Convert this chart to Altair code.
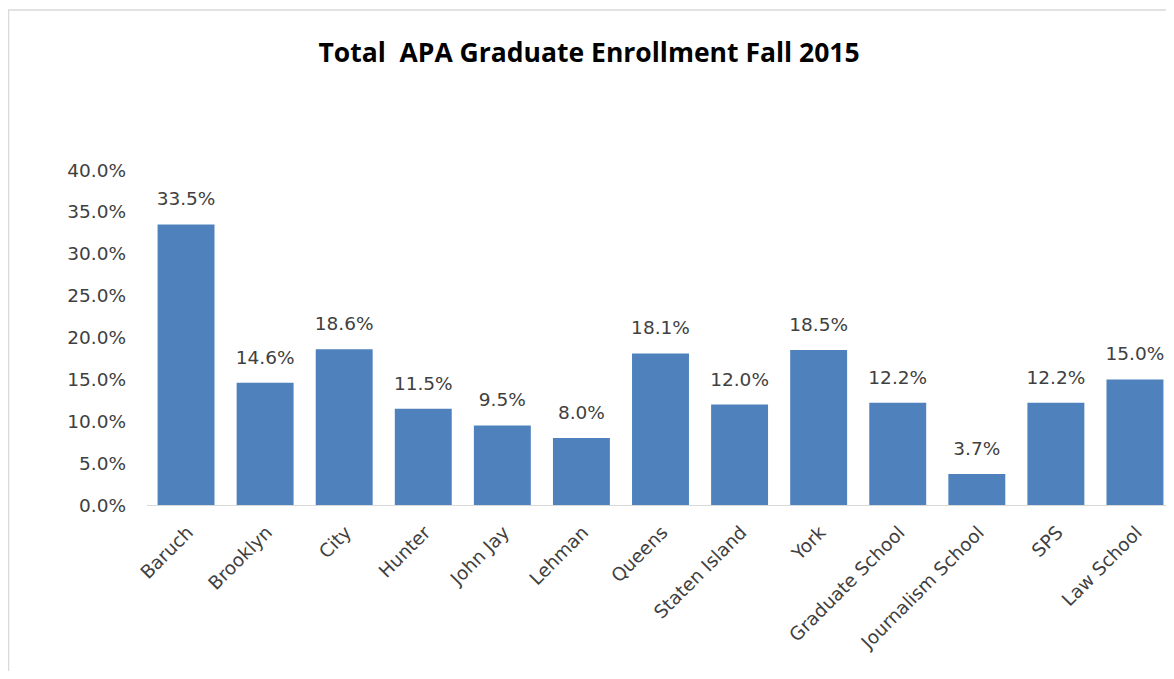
import altair as alt
import pandas as pd

schools = ["Baruch", "Brooklyn", "City", "Hunter", "John Jay", "Lehman", "Queens",
           "Staten Island", "York", "Graduate School", "Journalism School", "SPS", "Law School"]
shares = [33.5, 14.6, 18.6, 11.5, 9.5, 8.0, 18.1, 12.0, 18.5, 12.2, 3.7, 12.2, 15.0]
title_text = "Total\u00a0 APA Graduate Enrollment Fall 2015"

df = pd.DataFrame({"school": schools, "share": [v / 100 for v in shares]})

FONT = "DejaVu Sans"
TFONT = "Open Sans"
FS = 18.5
W, H = 1028, 335

base = alt.Chart(df).encode(
    x=alt.X("school:N", sort=schools, title=None,
            scale=alt.Scale(paddingInner=0.28, paddingOuter=0.14),
            axis=alt.Axis(labelAngle=-45, labelAlign="right", labelBaseline="middle",
                          labelPadding=24, labelOffset=4, ticks=False, domainColor="#d9d9d9",
                          labelFont=FONT, labelFontSize=FS, labelColor="#404040")),
    y=alt.Y("share:Q", title=None,
            scale=alt.Scale(domain=[0, 0.4]),
            axis=alt.Axis(format=".1%", values=[0, 0.05, 0.1, 0.15, 0.2, 0.25, 0.3, 0.35, 0.4],
                          grid=False, domain=False, ticks=False, labelPadding=21,
                          labelFont=FONT, labelFontSize=FS, labelColor="#404040")),
)

bars = base.mark_bar(color="#4F81BD")
labels = base.mark_text(baseline="alphabetic", dy=-19, font=FONT, fontSize=FS,
                        color="#404040").encode(text=alt.Text("share:Q", format=".1%"))

border = alt.Chart(alt.Data(values=[{}])).mark_rect(
    fill=None, stroke="#d9d9d9", strokeWidth=1.5
).encode(x=alt.value(-138), x2=alt.value(W + 20), y=alt.value(-160), y2=alt.value(H + 200))

title = alt.Chart(alt.Data(values=[{"t": title_text}])).mark_text(
    font=TFONT, fontSize=26.5, fontWeight="bold", color="#000000",
    align="center", baseline="alphabetic"
).encode(text="t:N", x=alt.value(442.5), y=alt.value(-108))

chart = alt.layer(border, bars, labels, title).properties(
    width=W, height=H,
    autosize=alt.AutoSizeParams(type="none"),
    padding={"left": 138.5, "top": 162, "right": -8.5, "bottom": 166},
).configure_view(stroke=None)

chart.save("out.html", embed_options={"renderer": "svg", "actions": False})
